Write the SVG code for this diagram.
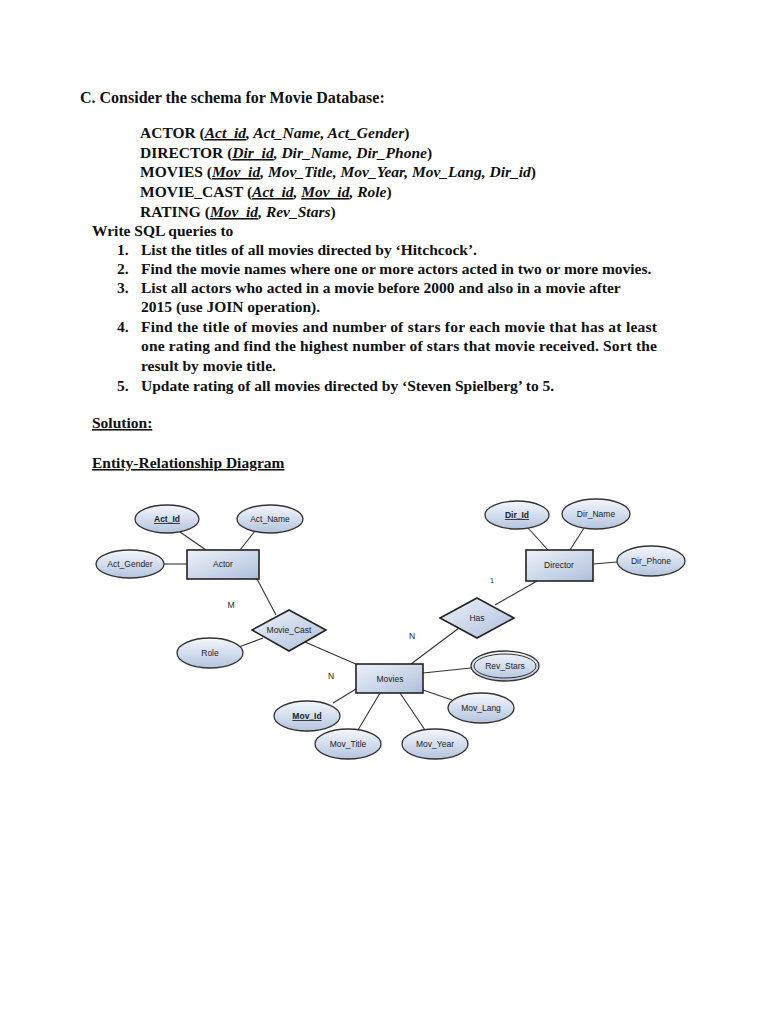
<svg xmlns="http://www.w3.org/2000/svg" width="768" height="1024" viewBox="0 0 768 1024">
<defs>
<linearGradient id="eg" x1="0" y1="0" x2="0" y2="1">
<stop offset="0" stop-color="#f4f7fc"/>
<stop offset="1" stop-color="#b4c4de"/>
</linearGradient>
<linearGradient id="rg" x1="0" y1="0" x2="1" y2="1">
<stop offset="0" stop-color="#eef2f9"/>
<stop offset="1" stop-color="#aebfdc"/>
</linearGradient>
</defs>
<style>
.t{font-family:"Liberation Serif",serif;font-weight:bold;font-size:15.5px;fill:#111}
.h{font-size:16px}
.i{font-style:italic}
.u{text-decoration:underline}
.e{fill:url(#eg);stroke:#333;stroke-width:1.3}
.r{fill:url(#rg);stroke:#222;stroke-width:1.6}
.l{fill:#222;font-family:"Liberation Sans",Arial,sans-serif;font-size:8.5px;text-anchor:middle}
.k{font-weight:bold;text-decoration:underline}
.c{stroke:#333;stroke-width:1.1;fill:none}
</style>
<rect width="768" height="1024" fill="#fff"/>
<g id="text">
<text class="t h" x="80" y="103">C. Consider the schema for Movie Database:</text>
<text class="t" x="140" y="138">ACTOR (<tspan class="i u">Act_id</tspan><tspan class="i">, Act_Name, Act_Gender</tspan>)</text>
<text class="t" x="140" y="158">DIRECTOR (<tspan class="i u">Dir_id</tspan><tspan class="i">, Dir_Name, Dir_Phone</tspan>)</text>
<text class="t" x="140" y="177">MOVIES (<tspan class="i u">Mov_id</tspan><tspan class="i">, Mov_Title, Mov_Year, Mov_Lang, Dir_id</tspan>)</text>
<text class="t" x="140" y="197">MOVIE_CAST (<tspan class="i u">Act_id</tspan><tspan class="i">, </tspan><tspan class="i u">Mov_id</tspan><tspan class="i">, Role</tspan>)</text>
<text class="t" x="140" y="217">RATING (<tspan class="i u">Mov_id</tspan><tspan class="i">, Rev_Stars</tspan>)</text>
<text class="t" x="92" y="236">Write SQL queries to</text>
<text class="t" x="117" y="255">1.</text>
<text class="t" x="141" y="255">List the titles of all movies directed by ‘Hitchcock’.</text>
<text class="t" x="117" y="274">2.</text>
<text class="t" x="141" y="274">Find the movie names where one or more actors acted in two or more movies.</text>
<text class="t" x="117" y="293">3.</text>
<text class="t" x="141" y="293">List all actors who acted in a movie before 2000 and also in a movie after</text>
<text class="t" x="141" y="312">2015 (use JOIN operation).</text>
<text class="t" x="117" y="332">4.</text>
<text class="t" x="141" y="332" textLength="516" lengthAdjust="spacing">Find the title of movies and number of stars for each movie that has at least</text>
<text class="t" x="141" y="351" textLength="516" lengthAdjust="spacing">one rating and find the highest number of stars that movie received. Sort the</text>
<text class="t" x="141" y="371">result by movie title.</text>
<text class="t" x="117" y="391">5.</text>
<text class="t" x="141" y="391">Update rating of all movies directed by ‘Steven Spielberg’ to 5.</text>
<text class="t u" x="92" y="428">Solution:</text>
<text class="t u" x="92" y="468">Entity-Relationship Diagram</text>
</g>
<g id="connectors">
<line class="c" x1="180" y1="532" x2="206" y2="550"/>
<line class="c" x1="255" y1="531" x2="240" y2="550"/>
<line class="c" x1="164" y1="564" x2="187" y2="564"/>
<line class="c" x1="257" y1="579" x2="276" y2="615"/>
<line class="c" x1="239" y1="647" x2="263" y2="638"/>
<line class="c" x1="305" y1="642" x2="358" y2="665"/>
<line class="c" x1="528" y1="528" x2="548" y2="550"/>
<line class="c" x1="584" y1="528" x2="570" y2="550"/>
<line class="c" x1="593" y1="564" x2="617" y2="562"/>
<line class="c" x1="537" y1="581" x2="495" y2="605"/>
<line class="c" x1="459" y1="628" x2="411" y2="664"/>
<line class="c" x1="423" y1="673" x2="471" y2="668"/>
<line class="c" x1="423" y1="690" x2="452" y2="700"/>
<line class="c" x1="400" y1="693" x2="425" y2="730"/>
<line class="c" x1="380" y1="693" x2="358" y2="730"/>
<line class="c" x1="356" y1="689" x2="333" y2="703"/>
</g>
<g id="cardinalities">
<text class="l" x="231" y="608">M</text>
<text class="l" x="412" y="639">N</text>
<text class="l" x="331" y="679">N</text>
<text class="l" x="492" y="583" style="font-size:7px">1</text>
</g>
<g id="Act_Id"><ellipse class="e" cx="167" cy="519" rx="32" ry="14"/><text class="l k" x="167" y="522">Act_Id</text></g>
<g id="Act_Name"><ellipse class="e" cx="270" cy="519" rx="33" ry="14"/><text class="l" x="270" y="522">Act_Name</text></g>
<g id="Act_Gender"><ellipse class="e" cx="130" cy="564" rx="34" ry="14"/><text class="l" x="130" y="567">Act_Gender</text></g>
<g id="Actor"><rect class="r" x="187" y="550" width="72" height="29"/><text class="l" x="223" y="567">Actor</text></g>
<g id="Movie_Cast"><polygon class="r" points="289,610 326,630 289,651 252,630"/><text class="l" x="289" y="633">Movie_Cast</text></g>
<g id="Role"><ellipse class="e" cx="210" cy="653" rx="33" ry="15"/><text class="l" x="210" y="656">Role</text></g>
<g id="Dir_Id"><ellipse class="e" cx="517" cy="515" rx="32" ry="14"/><text class="l k" x="517" y="518">Dir_Id</text></g>
<g id="Dir_Name"><ellipse class="e" cx="596" cy="514" rx="34" ry="15"/><text class="l" x="596" y="517">Dir_Name</text></g>
<g id="Dir_Phone"><ellipse class="e" cx="651" cy="561" rx="34" ry="15"/><text class="l" x="651" y="564">Dir_Phone</text></g>
<g id="Director"><rect class="r" x="526" y="550" width="67" height="31"/><text class="l" x="559" y="568">Director</text></g>
<g id="Has"><polygon class="r" points="477,598 514,618 477,638 440,618"/><text class="l" x="477" y="621">Has</text></g>
<g id="Movies"><rect class="r" x="356" y="664" width="67" height="29"/><text class="l" x="390" y="682">Movies</text></g>
<g id="Rev_Stars"><ellipse class="e" cx="505" cy="666" rx="34" ry="15"/><ellipse cx="505" cy="666" rx="31" ry="12" fill="none" stroke="#333" stroke-width="1"/><text class="l" x="505" y="669">Rev_Stars</text></g>
<g id="Mov_Lang"><ellipse class="e" cx="481" cy="708" rx="33" ry="15"/><text class="l" x="481" y="711">Mov_Lang</text></g>
<g id="Mov_Year"><ellipse class="e" cx="435" cy="744" rx="33" ry="15"/><text class="l" x="435" y="747">Mov_Year</text></g>
<g id="Mov_Title"><ellipse class="e" cx="348" cy="744" rx="33" ry="15"/><text class="l" x="348" y="747">Mov_Title</text></g>
<g id="Mov_Id"><ellipse class="e" cx="307" cy="716" rx="33" ry="15"/><text class="l k" x="307" y="719">Mov_Id</text></g>
</svg>
